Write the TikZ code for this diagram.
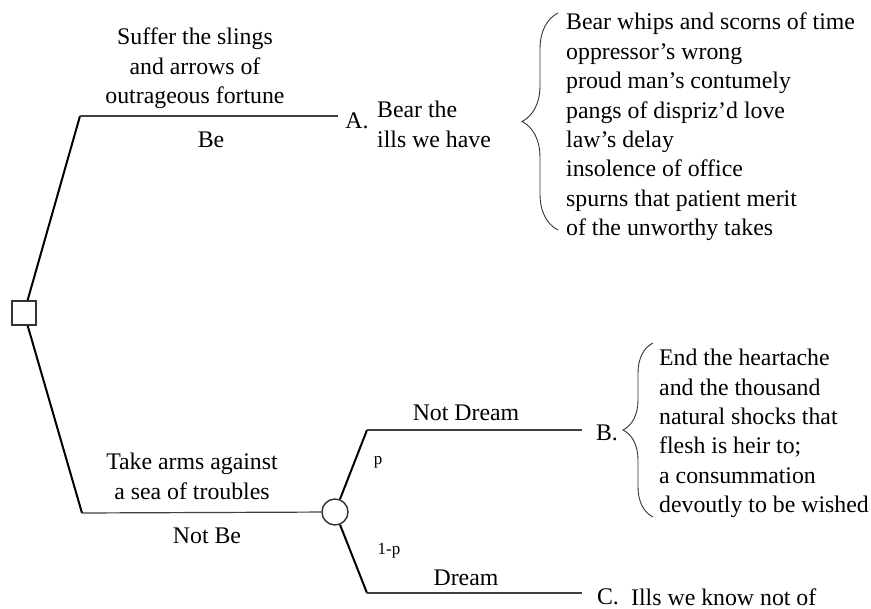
\documentclass[tikz,border=0pt]{standalone}
\usepackage{fontspec}
\setmainfont{Liberation Serif}
\usetikzlibrary{decorations.pathreplacing,positioning}

\tikzset{
  stem/.style={line width=2pt},
  branch/.style={line width=1.2pt,black!75},
  lbl/.style={inner sep=0pt},
  brc/.style={decorate,decoration={brace,amplitude=#1},line width=0.9pt,black!80}
}

\begin{document}
\begin{tikzpicture}[x=1pt,y=-1pt]
  \useasboundingbox (0,0) rectangle (871,609);
  \fontsize{23.8}{29.4}\selectfont
  \node[draw,black!80,line width=1.4pt,minimum size=24pt,inner sep=0pt] (dec) at (24,313) {};
  \node[draw,black!80,line width=1.4pt,circle,minimum size=26pt,inner sep=0pt] (chance) at (335,512) {};
  \coordinate (beknee) at (80,116);
  \coordinate (beend) at (338,116);
  \coordinate (notbeknee) at (82,513);
  \coordinate (ndknee) at (367,430);
  \coordinate (ndend) at (582,430);
  \coordinate (dknee) at (367,593);
  \coordinate (dend) at (582,593);

  \draw[stem] (dec) -- (beknee);
  \draw[branch] (beknee) -- (beend);
  \draw[stem] (dec) -- (notbeknee);
  \draw[branch] (notbeknee) -- (chance);
  \draw[stem] (chance) -- (ndknee);
  \draw[branch] (ndknee) -- (ndend);
  \draw[stem] (chance) -- (dknee);
  \draw[branch] (dknee) -- (dend);

  \node[lbl,anchor=north,align=center] (suffer) at (195,28) {Suffer the slings\\and arrows of\\outrageous fortune};
  \node[lbl] (be) at (211,140) {Be};
  \node[lbl] (alab) at (357,121) {A.};
  \node[lbl,anchor=north west,align=left] (bear) at (377,101) {Bear the\\ills we have};
  \draw[brc=36] (558,230) -- (558,13);
  \node[lbl,anchor=north west,align=left] (alist) at (566,13) {Bear whips and scorns of time\\oppressor's wrong\\proud man's contumely\\pangs of dispriz'd love\\law's delay\\insolence of office\\spurns that patient merit\\of the unworthy takes};

  \node[lbl,anchor=north,align=center] (take) at (192,453) {Take arms against\\a sea of troubles};
  \node[lbl] (notbe) at (207,536) {Not Be};
  \node[lbl] (notdream) at (466,413) {Not Dream};
  \node[lbl] (dream) at (466,578) {Dream};
  \node[lbl,font=\fontsize{17}{20}\selectfont] (p) at (378,462) {p};
  \node[lbl,font=\fontsize{17}{20}\selectfont] (q) at (389,551) {1-p};

  \node[lbl] (blab) at (607,433) {B.};
  \draw[brc=30] (653,517) -- (653,343);
  \node[lbl,anchor=north west,align=left] (blist) at (659,349) {End the heartache\\and the thousand\\natural shocks that\\flesh is heir to;\\a consummation\\devoutly to be wished};

  \node[lbl] (clab) at (608,597) {C.};
  \node[lbl,anchor=west] (ills) at (631,597) {Ills we know not of};
\end{tikzpicture}
\end{document}
